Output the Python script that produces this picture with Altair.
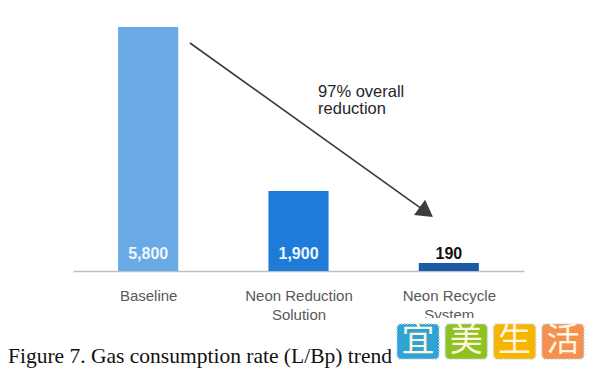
import math
import altair as alt
import pandas as pd

# ---- data ----
categories = ["Baseline", "Neon Reduction Solution", "Neon Recycle System"]
label_lines = [["Baseline"], ["Neon Reduction", "Solution"], ["Neon Recycle", "System"]]
values = [5800, 1900, 190]
value_labels = ["5,800", "1,900", "190"]
bar_colors = ["#68a9e6", "#1f7bd8", "#1c5aa6"]
value_label_colors = ["#eef6ff", "#eef6ff", "#111111"]

# arrow (x in category-slot units, slot i spans i..i+1; y in L/Bp)
arrow_x = [0.778]
arrow_y = [5420]
arrow_head_x = [2.350]
arrow_head_y = [1398]
annotation_lines = ["97% overall", "reduction"]
annotation_x = [1.63]
annotation_y = [4136]

caption = "Figure 7. Gas consumption rate (L/Bp) trend"
wm_chars = ["宜", "美", "生", "活"]
wm_colors = ["#2ea3d5", "#8dc21f", "#f7b500", "#f6904f"]

W, H = 451, 244
YMAX = 5800
BAR_HALF = 0.2  # bar width 0.4 of a category slot

idx = list(range(len(categories)))
bars_df = pd.DataFrame({
    "cat": categories,
    "center": [i + 0.5 for i in idx],
    "x0": [i + 0.5 - BAR_HALF for i in idx],
    "x1": [i + 0.5 + BAR_HALF for i in idx],
    "value": values,
    "label": value_labels,
    "color": bar_colors,
    "lcolor": value_label_colors,
})
arrow_df = pd.DataFrame({"x": arrow_x, "y": arrow_y, "x2": arrow_head_x, "y2": arrow_head_y})
ann_df = pd.DataFrame({"x": annotation_x, "y": annotation_y, "text": ["\n".join(annotation_lines)]})
one = pd.DataFrame({"a": [0]})

# label expression for multi-line axis labels, keyed by slot center
expr = "''"
for i, lines in reversed(list(zip(idx, label_lines))):
    arr = "[" + ",".join("'" + l + "'" for l in lines) + "]"
    expr = f"abs(datum.value - {i + 0.5}) < 0.01 ? {arr} : ({expr})"

yscale = alt.Scale(domain=[0, YMAX], nice=False, zero=True)
xscale = alt.Scale(domain=[0, len(categories)], nice=False, zero=False)

bars = alt.Chart(bars_df).mark_rect().encode(
    x=alt.X("x0:Q", scale=xscale, title=None,
            axis=alt.Axis(values=[i + 0.5 for i in idx], labelExpr=expr, labelAngle=0,
                          ticks=False, tickSize=0, labelPadding=17,
                          labelFont="Liberation Sans", labelFontSize=15,
                          labelColor="#595959", labelLineHeight=19, labelFlush=False,
                          labelOverlap=False,
                          domainColor="#bfbfbf", domainWidth=1.5, grid=False)),
    x2="x1:Q",
    y=alt.Y("value:Q", scale=yscale, axis=None),
    y2=alt.datum(0),
    color=alt.Color("color:N", scale=None),
)

bar_labels = alt.Chart(bars_df).mark_text(
    font="Liberation Sans", fontSize=16, fontWeight="bold", baseline="alphabetic", dy=-12.5
).encode(
    x=alt.X("center:Q", scale=xscale, title=None),
    y=alt.datum(0, axis=None),
    text="label:N",
    color=alt.Color("lcolor:N", scale=None),
)

arrow_line = alt.Chart(arrow_df).mark_rule(color="#3a3a3a", strokeWidth=1.6).encode(
    x=alt.X("x:Q", scale=xscale, title=None),
    y=alt.Y("y:Q", scale=yscale, axis=None),
    x2="x2:Q",
    y2="y2:Q",
)

dx = (arrow_head_x[0] - arrow_x[0]) * W / len(categories)
dy = (arrow_y[0] - arrow_head_y[0]) * H / YMAX
head_angle = math.degrees(math.atan2(dy, dx)) + 90

arrow_head = alt.Chart(arrow_df).mark_point(
    shape="triangle-up", filled=True, size=361, angle=head_angle, color="#3d3d3d", opacity=1
).encode(
    x=alt.X("x2:Q", scale=xscale, title=None),
    y=alt.Y("y2:Q", scale=yscale, axis=None),
)

annotation = alt.Chart(ann_df).mark_text(
    font="Liberation Sans", fontSize=16.5, align="left", baseline="alphabetic",
    lineBreak="\n", lineHeight=17, color="#262626"
).encode(
    x=alt.X("x:Q", scale=xscale, title=None),
    y=alt.Y("y:Q", scale=yscale, axis=None),
    text="text:N",
)

caption_mark = alt.Chart(one).mark_text(
    text=caption, font="Liberation Serif", fontSize=21.5, align="left",
    baseline="alphabetic", color="#111111"
).encode(x=alt.value(-65), y=alt.value(336))

wm_layers = [
    alt.Chart(one).mark_rect(color="white").encode(
        x=alt.value(320), x2=alt.value(519), y=alt.value(291), y2=alt.value(341)
    )
]
box_w, box_gap, box_x0 = 42, 6.3, 324
for k, (ch, col) in enumerate(zip(wm_chars, wm_colors)):
    left = box_x0 + k * (box_w + box_gap)
    wm_layers.append(
        alt.Chart(one).mark_rect(
            color=col, cornerRadius=4, stroke="#b9cfe0", strokeWidth=2, strokeDash=[1, 2]
        ).encode(x=alt.value(left), x2=alt.value(left + box_w), y=alt.value(297), y2=alt.value(332))
    )
    wm_layers.append(
        alt.Chart(one).mark_text(
            text=ch, font="Noto Sans CJK SC", fontSize=33, baseline="middle", align="center",
            color="#fff6e0"
        ).encode(x=alt.value(left + box_w / 2), y=alt.value(314))
    )

chart = alt.layer(
    bars, bar_labels, arrow_line, arrow_head, annotation, caption_mark, *wm_layers
).properties(
    width=W, height=H,
    background="white",
    autosize=alt.AutoSizeParams(type="none"),
    padding={"left": 65, "top": 19, "right": 68, "bottom": 99},
).configure_view(strokeWidth=0, stroke="transparent").configure_axis(grid=False)

chart.save("out.html", embed_options={"renderer": "svg", "actions": False})
